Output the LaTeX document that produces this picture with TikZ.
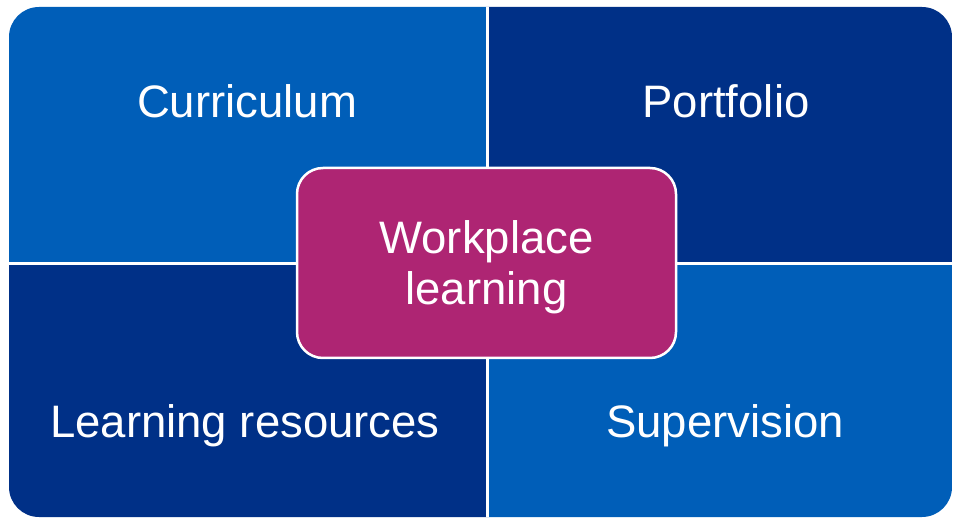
\documentclass[tikz,border=0pt]{standalone}
\usepackage{fontspec}
\setmainfont{Liberation Sans}
\usepackage{xcolor}
\usepackage{tikz}
\usetikzlibrary{positioning}

\definecolor{midblue}{HTML}{005EB8}
\definecolor{darkblue}{HTML}{003087}
\definecolor{hubpink}{HTML}{AE2573}

\tikzset{
    label text/.style={text=white, font=\fontsize{45.5}{51}\selectfont, align=center},
    hub/.style={draw=white, line width=2.5pt, fill=hubpink, rounded corners=26pt,
        minimum width=379pt, minimum height=190pt, label text}
}

\begin{document}
\begin{tikzpicture}[x=1pt, y=-1pt]
    \useasboundingbox (0,0) rectangle (953,518);

    % Quadrants, clipped to one rounded frame
    \begin{scope}
        \clip[rounded corners=30pt] (9,7) rectangle (952,517);
        \fill[midblue]  (0,0) rectangle (487.5,264);
        \fill[darkblue] (487.5,0) rectangle (953,264);
        \fill[darkblue] (0,264) rectangle (487.5,518);
        \fill[midblue]  (487.5,264) rectangle (953,518);
        % White dividers
        \draw[white, line width=3pt] (487.5,0) -- (487.5,518);
        \draw[white, line width=3pt] (0,264) -- (953,264);
    \end{scope}

    % Quadrant labels
    \node[label text] (curr) at (247,101) {Curriculum};
    \node[label text] (port) at (726,101) {Portfolio};
    \node[label text] (res)  at (245,426) {Learning resources};
    \node[label text] (sup)  at (725,426) {Supervision};

    % Centre box
    \node[hub] (work) at (486.5,263) {};
    \node[label text] at ([yshift=-4pt]work.center) {Workplace\\learning};
\end{tikzpicture}
\end{document}
